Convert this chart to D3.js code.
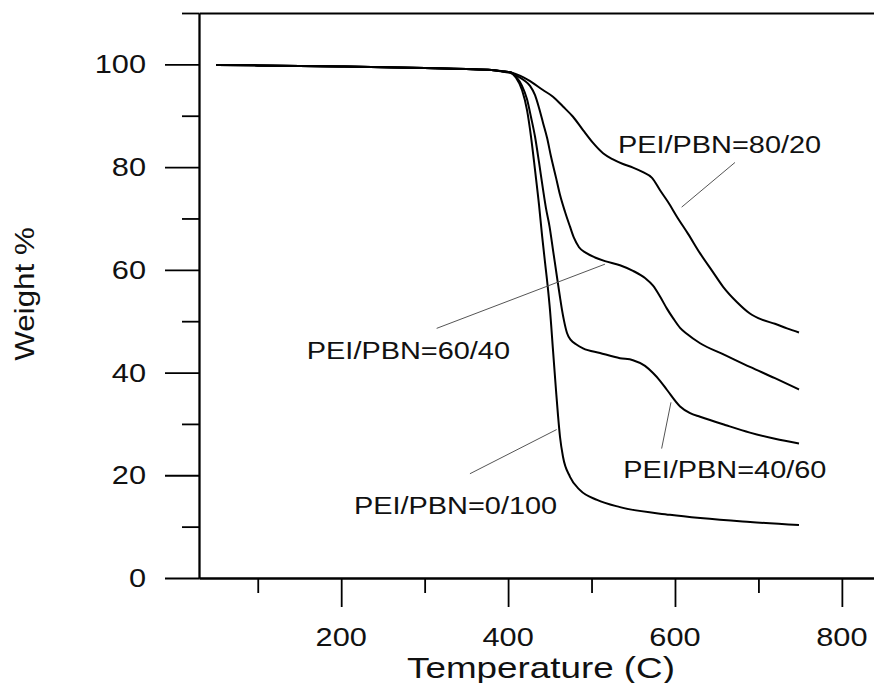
<!DOCTYPE html>
<html>
<head>
<meta charset="utf-8">
<script src="https://cdn.jsdelivr.net/npm/d3@7"></script>
<style>
body { margin: 0; background: #fff; }
svg { display: block; }
text { font-family: "Liberation Sans", Arial, sans-serif; fill: #111; }
</style>
</head>
<body>
<div id="chart"></div>
<script>
// TGA curves (temperature in C, weight %)
var temp0_100 = [50, 100, 200, 300, 350, 380, 396, 402.3, 409.5, 416.7, 422.7, 427.5, 432.3, 437.1, 440.7, 444.3, 447.9, 450.2, 453.8, 457.4, 459.8, 462.2, 465.8, 474.2, 486.2, 506.6, 534.1, 594, 690, 748.6];
var wt0_100   = [99.9, 99.8, 99.6, 99.3, 99.1, 98.9, 98.6, 98.4, 97.4, 95.0, 91.1, 85.9, 79.4, 72.6, 66.7, 61.4, 56.1, 52.2, 44.4, 36.6, 31.7, 27.5, 23.6, 19.7, 17.1, 15.2, 13.8, 12.3, 10.9, 10.3];

var temp40_60 = [50, 100, 200, 300, 350, 380, 396, 402.3, 409.5, 416.7, 422.7, 427.5, 432.3, 437.1, 441.9, 445.5, 449.6, 453.8, 458.6, 462.2, 464.6, 467.0, 470.6, 475.4, 481.4, 489.8, 510.2, 534.1, 549.7, 564.1, 573.7, 582.1, 590.5, 606.1, 618.1, 630.1, 660, 689.8, 719.8, 748.6];
var wt40_60   = [99.9, 99.8, 99.6, 99.3, 99.1, 98.9, 98.6, 98.5, 97.6, 95.8, 93.2, 89.7, 85.9, 80.9, 75.6, 71.9, 68.5, 63.9, 58.6, 54.7, 52.2, 50.1, 47.7, 46.3, 45.5, 44.7, 43.8, 42.8, 42.4, 41.3, 39.9, 38.4, 36.6, 33.4, 32.1, 31.4, 29.8, 28.3, 27.1, 26.2];

var temp60_40 = [50, 100, 200, 300, 350, 380, 396, 402.3, 409.5, 419.1, 426.3, 432.3, 437.1, 441.9, 446.7, 451.5, 457.5, 462.2, 468.2, 474.2, 479.0, 485.0, 493.4, 504.2, 516.1, 534.1, 549.7, 564.1, 573.7, 582.1, 590.5, 597.7, 606.1, 614.5, 630.1, 660, 689.8, 719.8, 748.6];
var wt60_40   = [99.9, 99.8, 99.6, 99.3, 99.1, 98.9, 98.6, 98.5, 97.9, 96.9, 95.8, 94.0, 91.5, 88.6, 85.7, 82.0, 77.9, 74.6, 71.3, 68.4, 66.2, 64.4, 63.3, 62.4, 61.7, 60.9, 59.8, 58.4, 56.9, 54.8, 52.4, 50.6, 48.7, 47.5, 45.7, 43.4, 41.1, 38.9, 36.7];

var temp80_20 = [50, 100, 200, 300, 350, 380, 396.2, 408.2, 423.8, 441.8, 453.8, 465.8, 477.8, 489.8, 501.8, 513.8, 525.7, 537.7, 549.7, 561.7, 572.5, 582.1, 591.7, 602.5, 615.7, 630.1, 644.5, 657.7, 674.4, 689.8, 704.2, 719.8, 734.2, 748.6];
var wt80_20   = [99.9, 99.8, 99.6, 99.3, 99.1, 98.9, 98.5, 98.2, 97.0, 95.0, 93.7, 91.8, 89.8, 87.2, 84.7, 82.7, 81.5, 80.6, 79.9, 79.0, 77.9, 75.5, 73.2, 70.3, 67.0, 63.2, 59.8, 56.7, 53.7, 51.5, 50.3, 49.5, 48.6, 47.8];

var seriesTemps = [temp0_100, temp40_60, temp60_40, temp80_20];
var seriesWts = [wt0_100, wt40_60, wt60_40, wt80_20];

// annotations: text, text anchor (T, W), leader line from (T, W) to (T, W)
var labelNames = ["PEI/PBN=80/20", "PEI/PBN=60/40", "PEI/PBN=40/60", "PEI/PBN=0/100"];
var labelT = [531.7, 158.8, 538, 215.3];
var labelW = [82.7, 42.6, 19.4, 12.5];
var leadT1 = [671.9, 314.4, 584, 354.3];
var leadW1 = [80.9, 48.6, 25.2, 20.3];
var leadT2 = [608, 516.1, 595.2, 458.2];
var leadW2 = [72.2, 61.1, 34.2, 28.9];

var yMajor = [0, 20, 40, 60, 80, 100];
var yMinor = [10, 30, 50, 70, 90, 110];
var xMajor = [200, 400, 600, 800];
var xMinor = [100, 300, 500, 700];

var W = 874, H = 683;
var svg = d3.select("#chart").append("svg").attr("width", W).attr("height", H);

var x = d3.scaleLinear().domain([29.6, 838.5]).range([199, 874]);
var y = d3.scaleLinear().domain([0, 110]).range([578, 13]);

var sx = 1.23; // the original lettering is wide

// axes
var axes = svg.append("g");
axes.append("g").attr("transform", "translate(" + x(29.6) + ",0)")
    .call(d3.axisLeft(y).tickValues(yMajor).tickSize(34).tickSizeOuter(0).tickFormat(""));
axes.append("g").attr("transform", "translate(" + x(29.6) + ",0)")
    .call(d3.axisLeft(y).tickValues(yMinor).tickSize(17).tickSizeOuter(0).tickFormat(""));
axes.append("g").attr("transform", "translate(0," + y(0) + ")")
    .call(d3.axisBottom(x).tickValues(xMajor).tickSize(29).tickSizeOuter(0).tickFormat(""));
axes.append("g").attr("transform", "translate(0," + y(0) + ")")
    .call(d3.axisBottom(x).tickValues(xMinor).tickSize(15).tickSizeOuter(0).tickFormat(""));
axes.append("g").attr("transform", "translate(0," + y(110) + ")")
    .call(d3.axisTop(x).tickValues([]).tickSizeOuter(0));
axes.selectAll("path, line").attr("stroke", "#000").attr("stroke-width", 1.8);

// tick labels
svg.append("g").selectAll("text").data(yMajor).enter().append("text")
    .attr("transform", function(d) { return "translate(146," + (y(d) + 9) + ") scale(" + sx + ",1)"; })
    .attr("text-anchor", "end").style("font-size", "25px").text(function(d) { return d; });
svg.append("g").selectAll("text").data(xMajor).enter().append("text")
    .attr("transform", function(d) { return "translate(" + x(d) + ",646) scale(" + sx + ",1)"; })
    .attr("text-anchor", "middle").style("font-size", "25px").text(function(d) { return d; });

// axis titles
svg.append("text").attr("transform", "translate(541,678) scale(1.27,1)")
    .attr("text-anchor", "middle").style("font-size", "29px").text("Temperature (C)");
svg.append("text").attr("transform", "translate(34,294) rotate(-90) scale(1.12,1)")
    .attr("text-anchor", "middle").style("font-size", "28px").text("Weight %");

// curves
var line = d3.line().curve(d3.curveMonotoneX)
    .x(function(d) { return x(d[0]); })
    .y(function(d) { return y(d[1]); });
seriesTemps.forEach(function(ts, i) {
    var pts = ts.map(function(t, j) { return [t, seriesWts[i][j]]; });
    svg.append("path").datum(pts).attr("d", line)
        .attr("fill", "none").attr("stroke", "#000").attr("stroke-width", 2);
});

// leader lines and labels
labelNames.forEach(function(name, i) {
    svg.append("line")
        .attr("x1", x(leadT1[i])).attr("y1", y(leadW1[i]))
        .attr("x2", x(leadT2[i])).attr("y2", y(leadW2[i]))
        .attr("stroke", "#555").attr("stroke-width", 1);
    svg.append("text")
        .attr("transform", "translate(" + x(labelT[i]) + "," + y(labelW[i]) + ") scale(" + sx + ",1)")
        .style("font-size", "23.5px").text(name);
});
</script>
</body>
</html>
